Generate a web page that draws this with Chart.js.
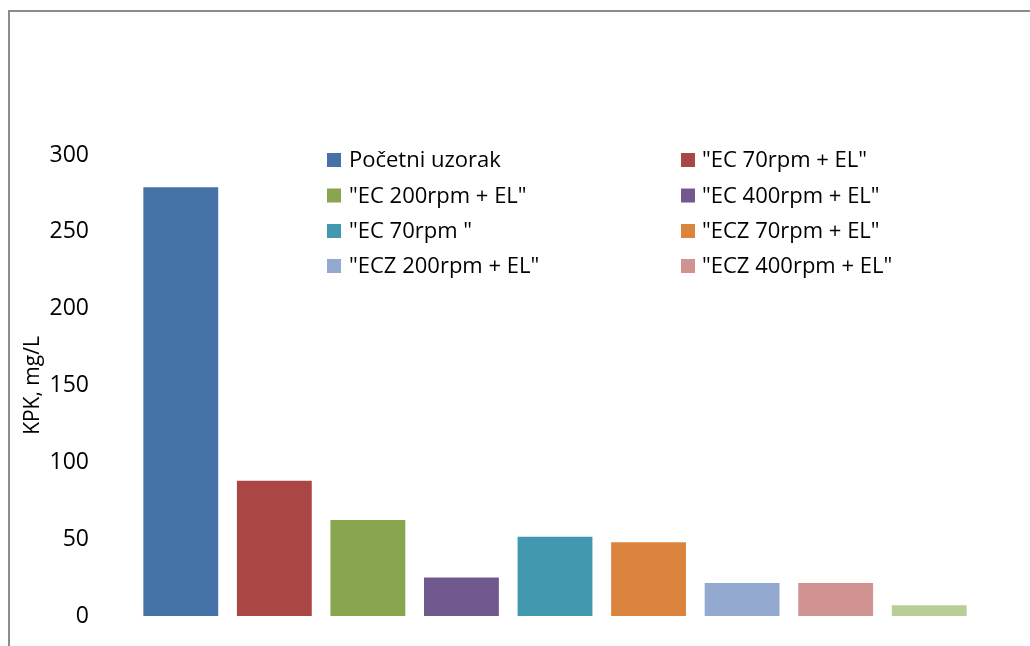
<!DOCTYPE html>
<html>
<head>
<meta charset="utf-8">
<script src="https://cdn.jsdelivr.net/npm/chart.js@4.4.1/dist/chart.umd.min.js"></script>
<style>
  html, body { margin: 0; padding: 0; background: #fff; }
  #wrap { position: relative; width: 1030px; height: 646px; }
</style>
</head>
<body>
<div id="wrap"><canvas id="myChart" width="1030" height="646"></canvas></div>
<script>
const categories = [
  "Početni uzorak",
  "\"EC 70rpm + EL\"",
  "\"EC 200rpm + EL\"",
  "\"EC 400rpm + EL\"",
  "\"EC 70rpm \"",
  "\"ECZ 70rpm + EL\"",
  "\"ECZ 200rpm + EL\"",
  "\"ECZ 400rpm + EL\"",
  ""
];
const kpkValues = [279, 88, 62.5, 25, 51.5, 48, 21.5, 21.5, 7];
const barColors = [
  "#4572A7", "#AA4643", "#89A54E", "#71588F", "#4198AF",
  "#DB843D", "#93A9CF", "#D19392", "#B9CD96"
];
const yTicks = [0, 50, 100, 150, 200, 250, 300];

const FONT = "'Open Sans', 'Liberation Sans', sans-serif";

// frame line and two-column legend drawn on the canvas
const frameAndLegend = {
  id: "frameAndLegend",
  afterDraw(chart) {
    const ctx = chart.ctx;
    ctx.save();
    ctx.strokeStyle = "#8c8c8c";
    ctx.lineWidth = 2;
    ctx.beginPath();
    ctx.moveTo(9, 646);
    ctx.lineTo(9, 11);
    ctx.lineTo(1030, 11);
    ctx.stroke();

    const cols = [{ box: 327, text: 349 }, { box: 681, text: 702 }];
    const rows = [160, 195.5, 231, 266];
    ctx.font = "22px " + FONT;
    ctx.textBaseline = "middle";
    chart.data.labels.forEach((label, i) => {
      if (!label) return;
      const c = cols[i % 2];
      const y = rows[Math.floor(i / 2)];
      ctx.fillStyle = barColors[i];
      ctx.fillRect(c.box, y - 7, 14, 14);
      ctx.fillStyle = "#000";
      ctx.fillText(label, c.text, y + 1);
    });
    ctx.restore();
  },
};

new Chart(document.getElementById("myChart").getContext("2d"), {
  type: "bar",
  data: {
    labels: categories,
    datasets: [
      {
        label: "KPK",
        data: kpkValues,
        backgroundColor: barColors,
        borderWidth: 0,
        barPercentage: 0.8,
        categoryPercentage: 1.0,
      },
    ],
  },
  options: {
    responsive: false,
    animation: false,
    layout: { padding: { left: 0, right: 54, top: 155, bottom: 30 } },
    plugins: {
      legend: { display: false },
      tooltip: { enabled: false },
    },
    scales: {
      x: { display: false },
      y: {
        min: 0,
        max: 300,
        afterFit: (scale) => {
          scale.width = 134;
          scale.paddingTop = 0;
          scale.paddingBottom = 0;
        },
        afterBuildTicks: (scale) => {
          scale.ticks = yTicks.map((v) => ({ value: v }));
        },
        grid: { display: false, drawTicks: false },
        border: { display: false },
        ticks: {
          padding: 45,
          color: "#000",
          font: { family: FONT, size: 23 },
        },
        title: {
          display: true,
          text: "KPK, mg/L",
          color: "#000",
          padding: { top: 20, bottom: 0 },
          font: { family: FONT, size: 21 },
        },
      },
    },
  },
  plugins: [frameAndLegend],
});
</script>
</body>
</html>
